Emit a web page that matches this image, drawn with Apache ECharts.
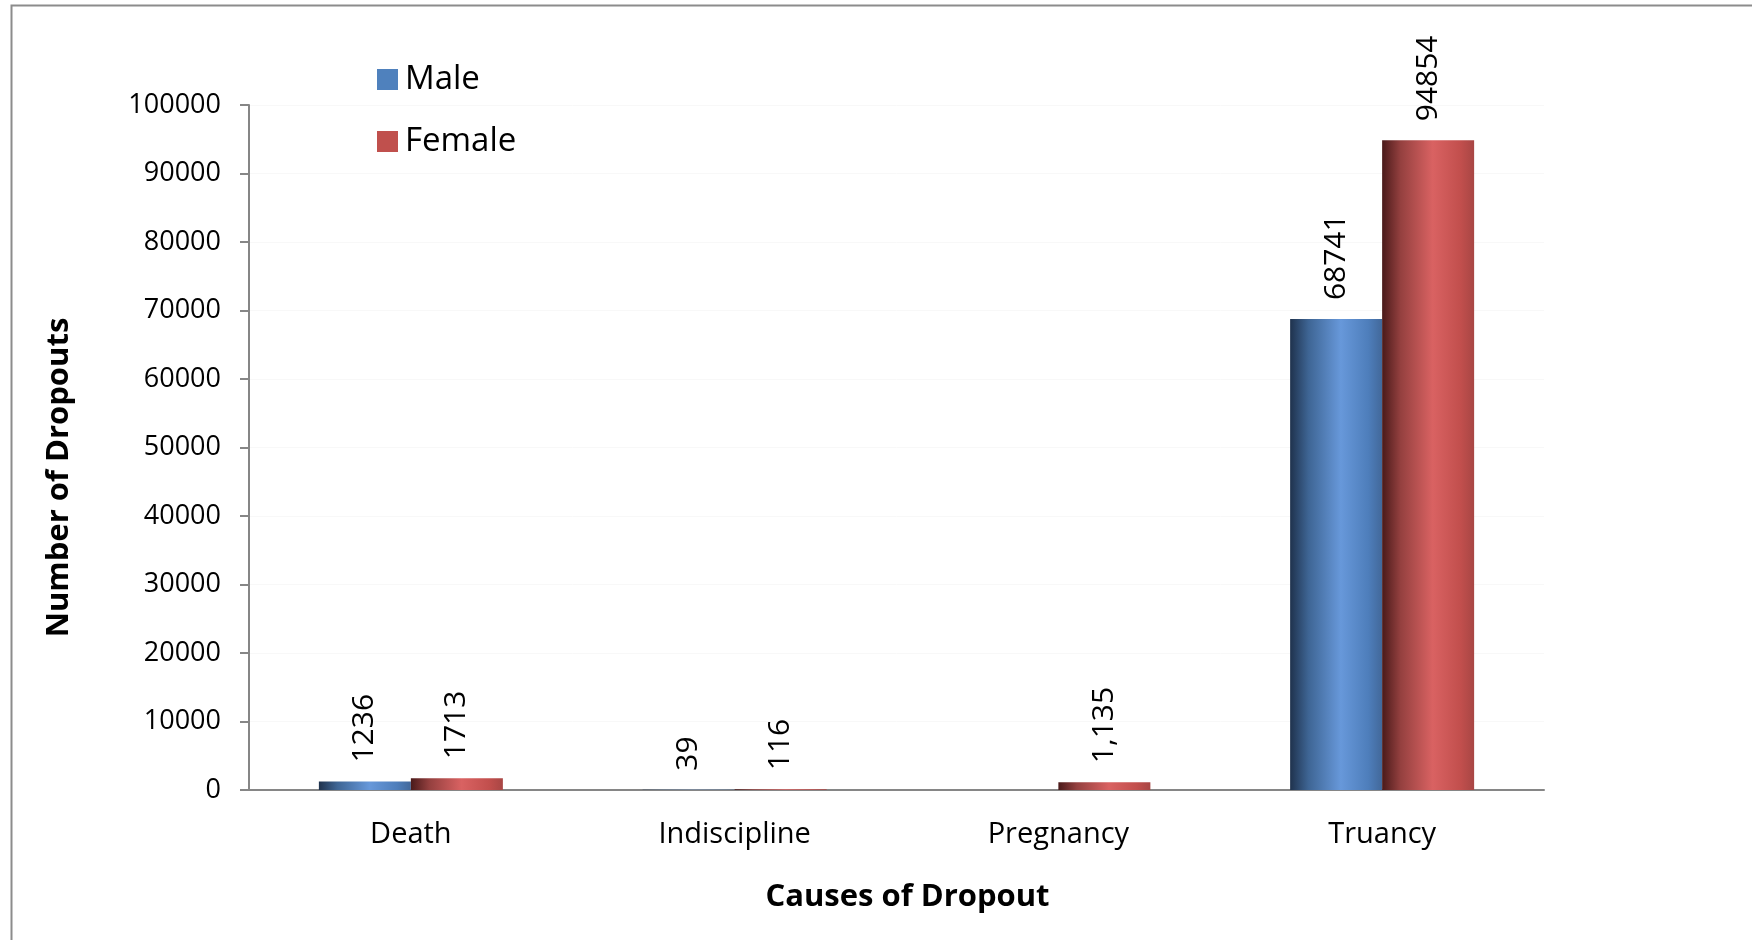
<!DOCTYPE html>
<html>
<head>
<meta charset="utf-8">
<script src="https://cdn.jsdelivr.net/npm/echarts@6/dist/echarts.min.js"></script>
<style>
  html, body { margin: 0; padding: 0; background: #fff; }
  #main { width: 1752px; height: 940px; }
</style>
</head>
<body>
<div id="main"></div>
<script>
var causes = ['Death', 'Indiscipline', 'Pregnancy', 'Truancy'];
var maleValues = [1236, 39, null, 68741];
var femaleValues = [1713, 116, 1135, 94854];
var maleLabels = ['1236', '39', '', '68741'];
var femaleLabels = ['1713', '116', '1,135', '94854'];

var font = '"Open Sans", "Noto Sans", sans-serif';

function barGradient(stops){
    return new echarts.graphic.LinearGradient(0, 0, 1, 0, stops);
}
var maleFill = barGradient([
    {offset: 0, color: '#1f324d'},
    {offset: 0.2, color: '#3e6594'},
    {offset: 0.55, color: '#6798da'},
    {offset: 0.85, color: '#4e7ebb'},
    {offset: 1, color: '#42689a'}
]);
var femaleFill = barGradient([
    {offset: 0, color: '#4a1a1a'},
    {offset: 0.2, color: '#94403f'},
    {offset: 0.55, color: '#d96262'},
    {offset: 0.85, color: '#c24f4d'},
    {offset: 1, color: '#a84644'}
]);

function barLabel(texts){
    return {
        show: true,
        position: 'top',
        rotate: 90,
        align: 'left',
        verticalAlign: 'middle',
        distance: 19,
        fontFamily: font,
        fontSize: 30,
        color: '#000',
        formatter: function(p){ return texts[p.dataIndex]; }
    };
}

var myChart = echarts.init(document.getElementById('main'));
var option = {
    animation: false,
    backgroundColor: '#fff',
    graphic: [{
        type: 'rect',
        left: 9,
        top: 3,
        shape: {width: 1800, height: 1000},
        style: {fill: 'none', stroke: '#8c8c8c', lineWidth: 2},
        silent: true
    }],
    legend: {
        orient: 'vertical',
        left: 372,
        top: 58,
        icon: 'rect',
        itemWidth: 21,
        itemHeight: 21,
        itemGap: 29,
        textStyle: {fontFamily: font, fontSize: 33, color: '#000', padding: [0, 0, 0, 2]},
        data: [
            {name: 'Male', itemStyle: {color: '#4f81bd'}},
            {name: 'Female', itemStyle: {color: '#c0504d'}}
        ]
    },
    grid: {left: 249, right: 208, top: 105, bottom: 150},
    xAxis: {
        type: 'category',
        data: causes,
        name: 'Causes of Dropout',
        nameLocation: 'middle',
        nameGap: 92,
        nameTextStyle: {fontFamily: font, fontSize: 31, fontWeight: 'bold', color: '#000', padding: [0, 0, 0, 22]},
        axisLine: {lineStyle: {color: '#868686', width: 2}},
        axisTick: {length: 9, lineStyle: {color: '#868686', width: 2}},
        axisLabel: {fontFamily: font, fontSize: 29, color: '#000', margin: 30}
    },
    yAxis: {
        type: 'value',
        min: 0,
        max: 100000,
        interval: 10000,
        name: 'Number of Dropouts',
        nameLocation: 'middle',
        nameGap: 174,
        nameTextStyle: {fontFamily: font, fontSize: 31, fontWeight: 'bold', color: '#000', padding: [0, 60, 0, 0]},
        axisLine: {show: true, lineStyle: {color: '#868686', width: 2}},
        axisTick: {show: true, length: 9, lineStyle: {color: '#868686', width: 2}},
        axisLabel: {
            fontFamily: font, fontSize: 27, color: '#000', margin: 28,
            formatter: function(v){ return String(v); }
        },
        splitLine: {lineStyle: {color: '#f8f8f8', width: 1}}
    },
    series: [
        {
            name: 'Male',
            type: 'bar',
            data: maleValues,
            barWidth: 92,
            barGap: '0%',
            itemStyle: {color: maleFill},
            label: barLabel(maleLabels)
        },
        {
            name: 'Female',
            type: 'bar',
            data: femaleValues,
            barWidth: 92,
            barGap: '0%',
            itemStyle: {color: femaleFill},
            label: barLabel(femaleLabels)
        }
    ]
};
myChart.setOption(option);
</script>
</body>
</html>
